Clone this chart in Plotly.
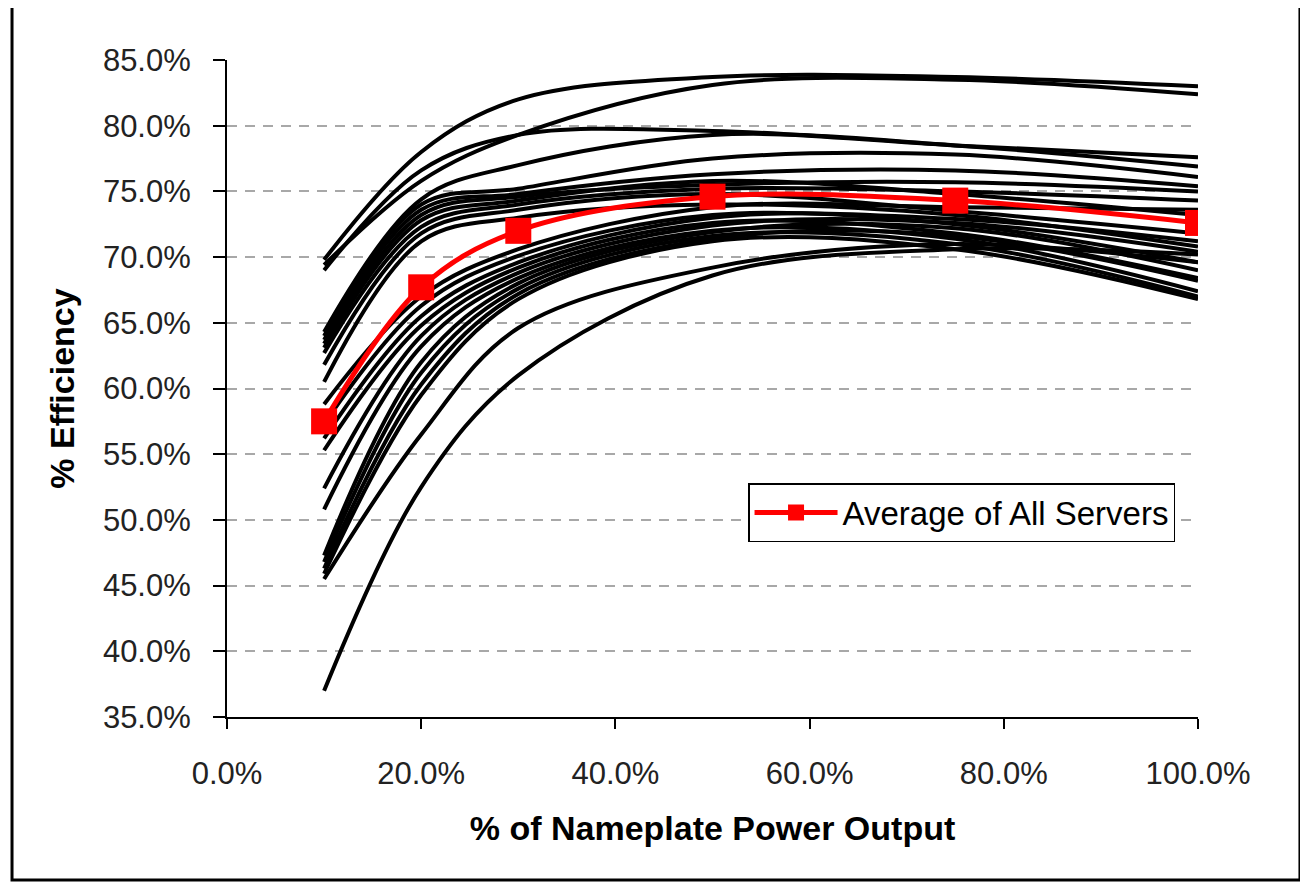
import plotly.graph_objects as go

# x positions (% of nameplate power output)
load_pct = [10, 20, 30, 50, 75, 100]

# individual server efficiency curves (% efficiency at each load point)
server_curves = [
    [69.8, 78.0, 82.0, 83.7, 83.7, 83.0],
    [69.4, 75.8, 79.3, 83.1, 83.5, 82.4],
    [69.0, 76.6, 79.3, 79.6, 78.5, 77.6],
    [64.3, 74.4, 77.0, 79.3, 78.5, 76.9],
    [64.0, 74.0, 75.2, 77.5, 77.8, 76.1],
    [63.7, 73.6, 74.8, 76.3, 76.6, 75.4],
    [63.4, 73.2, 74.6, 75.5, 75.7, 75.0],
    [63.1, 72.8, 74.3, 75.8, 74.8, 73.2],
    [62.7, 72.3, 74.0, 75.2, 75.0, 74.3],
    [61.8, 71.8, 73.6, 74.8, 73.5, 71.8],
    [60.5, 71.2, 73.0, 74.0, 73.2, 70.8],
    [58.8, 67.0, 70.6, 73.8, 73.8, 73.6],
    [57.3, 66.3, 70.1, 73.2, 72.5, 69.6],
    [56.2, 65.5, 69.6, 73.0, 72.9, 71.2],
    [55.3, 64.8, 69.2, 72.6, 71.8, 68.4],
    [52.4, 64.0, 68.8, 72.4, 72.6, 70.4],
    [50.8, 63.2, 68.4, 72.0, 71.4, 67.4],
    [47.3, 62.0, 68.0, 71.9, 72.2, 69.0],
    [46.8, 61.2, 67.6, 71.6, 71.0, 67.0],
    [46.3, 60.3, 67.2, 71.4, 71.6, 68.2],
    [45.9, 59.5, 66.8, 71.2, 70.6, 66.8],
    [45.5, 56.5, 64.6, 69.2, 71.0, 69.6],
    [37.0, 52.5, 61.0, 68.6, 70.6, 70.2],
]

# average of all servers
average_eff = [57.5, 67.7, 72.0, 74.6, 74.3, 72.6]

x_ticks = [0, 20, 40, 60, 80, 100]
x_tick_labels = ["0.0%", "20.0%", "40.0%", "60.0%", "80.0%", "100.0%"]
y_ticks = [35, 40, 45, 50, 55, 60, 65, 70, 75, 80, 85]
y_tick_labels = ["35.0%", "40.0%", "45.0%", "50.0%", "55.0%", "60.0%",
                 "65.0%", "70.0%", "75.0%", "80.0%", "85.0%"]

FONT = "Liberation Sans, Arial, sans-serif"

fig = go.Figure()
for curve in server_curves:
    fig.add_trace(go.Scatter(
        x=load_pct, y=curve, mode="lines",
        line=dict(color="#000000", width=4, shape="spline", smoothing=1.0),
        showlegend=False, hoverinfo="skip",
    ))

fig.add_trace(go.Scatter(
    x=load_pct, y=average_eff, mode="lines+markers",
    name="Average of All Servers",
    line=dict(color="#FF0000", width=5, shape="spline", smoothing=1.0),
    marker=dict(symbol="square", size=26, color="#FF0000"),
))

fig.update_layout(
    width=1300, height=874, autosize=False,
    margin=dict(l=219, r=110, t=52, b=165),
    paper_bgcolor="white", plot_bgcolor="white",
    font=dict(family=FONT, size=31, color="#000000"),
    showlegend=True,
    legend=dict(
        x=0.5366, y=0.356, xanchor="left", yanchor="top",
        bgcolor="white", bordercolor="#000000", borderwidth=1.5,
        font=dict(family=FONT, size=33, color="#000000"),
        itemsizing="trace", itemwidth=83,
    ),
    xaxis=dict(
        range=[0, 100], tickvals=x_ticks, ticktext=x_tick_labels,
        showgrid=False, zeroline=False,
        showline=True, linecolor="#000000", linewidth=2,
        ticks="outside", ticklen=10, tickwidth=2, tickcolor="#000000",
        ticklabelstandoff=18,
        tickfont=dict(family=FONT, size=31, color="#222222"),
        title=dict(text="<b>% of Nameplate Power Output</b>",
                   font=dict(family=FONT, size=34, color="#000000"),
                   standoff=26),
    ),
    yaxis=dict(
        range=[35, 85], tickvals=y_ticks, ticktext=y_tick_labels,
        showgrid=True, gridcolor="#A8A8A8", gridwidth=2, griddash="10px,8px",
        zeroline=False,
        showline=True, linecolor="#000000", linewidth=2,
        ticks="outside", ticklen=12, tickwidth=2, tickcolor="#000000",
        ticklabelstandoff=16,
        tickfont=dict(family=FONT, size=31, color="#222222"),
        title=dict(text="<b>% Efficiency</b>",
                   font=dict(family=FONT, size=34, color="#000000"),
                   standoff=18),
    ),
    shapes=[
        dict(type="rect", xref="paper", yref="paper",
             x0=-0.2214, x1=1.105, y0=-0.248, y1=1.0837,
             line=dict(color="#000000", width=3), fillcolor="rgba(0,0,0,0)",
             layer="below"),
    ],
)

fig.write_html("out.html")
